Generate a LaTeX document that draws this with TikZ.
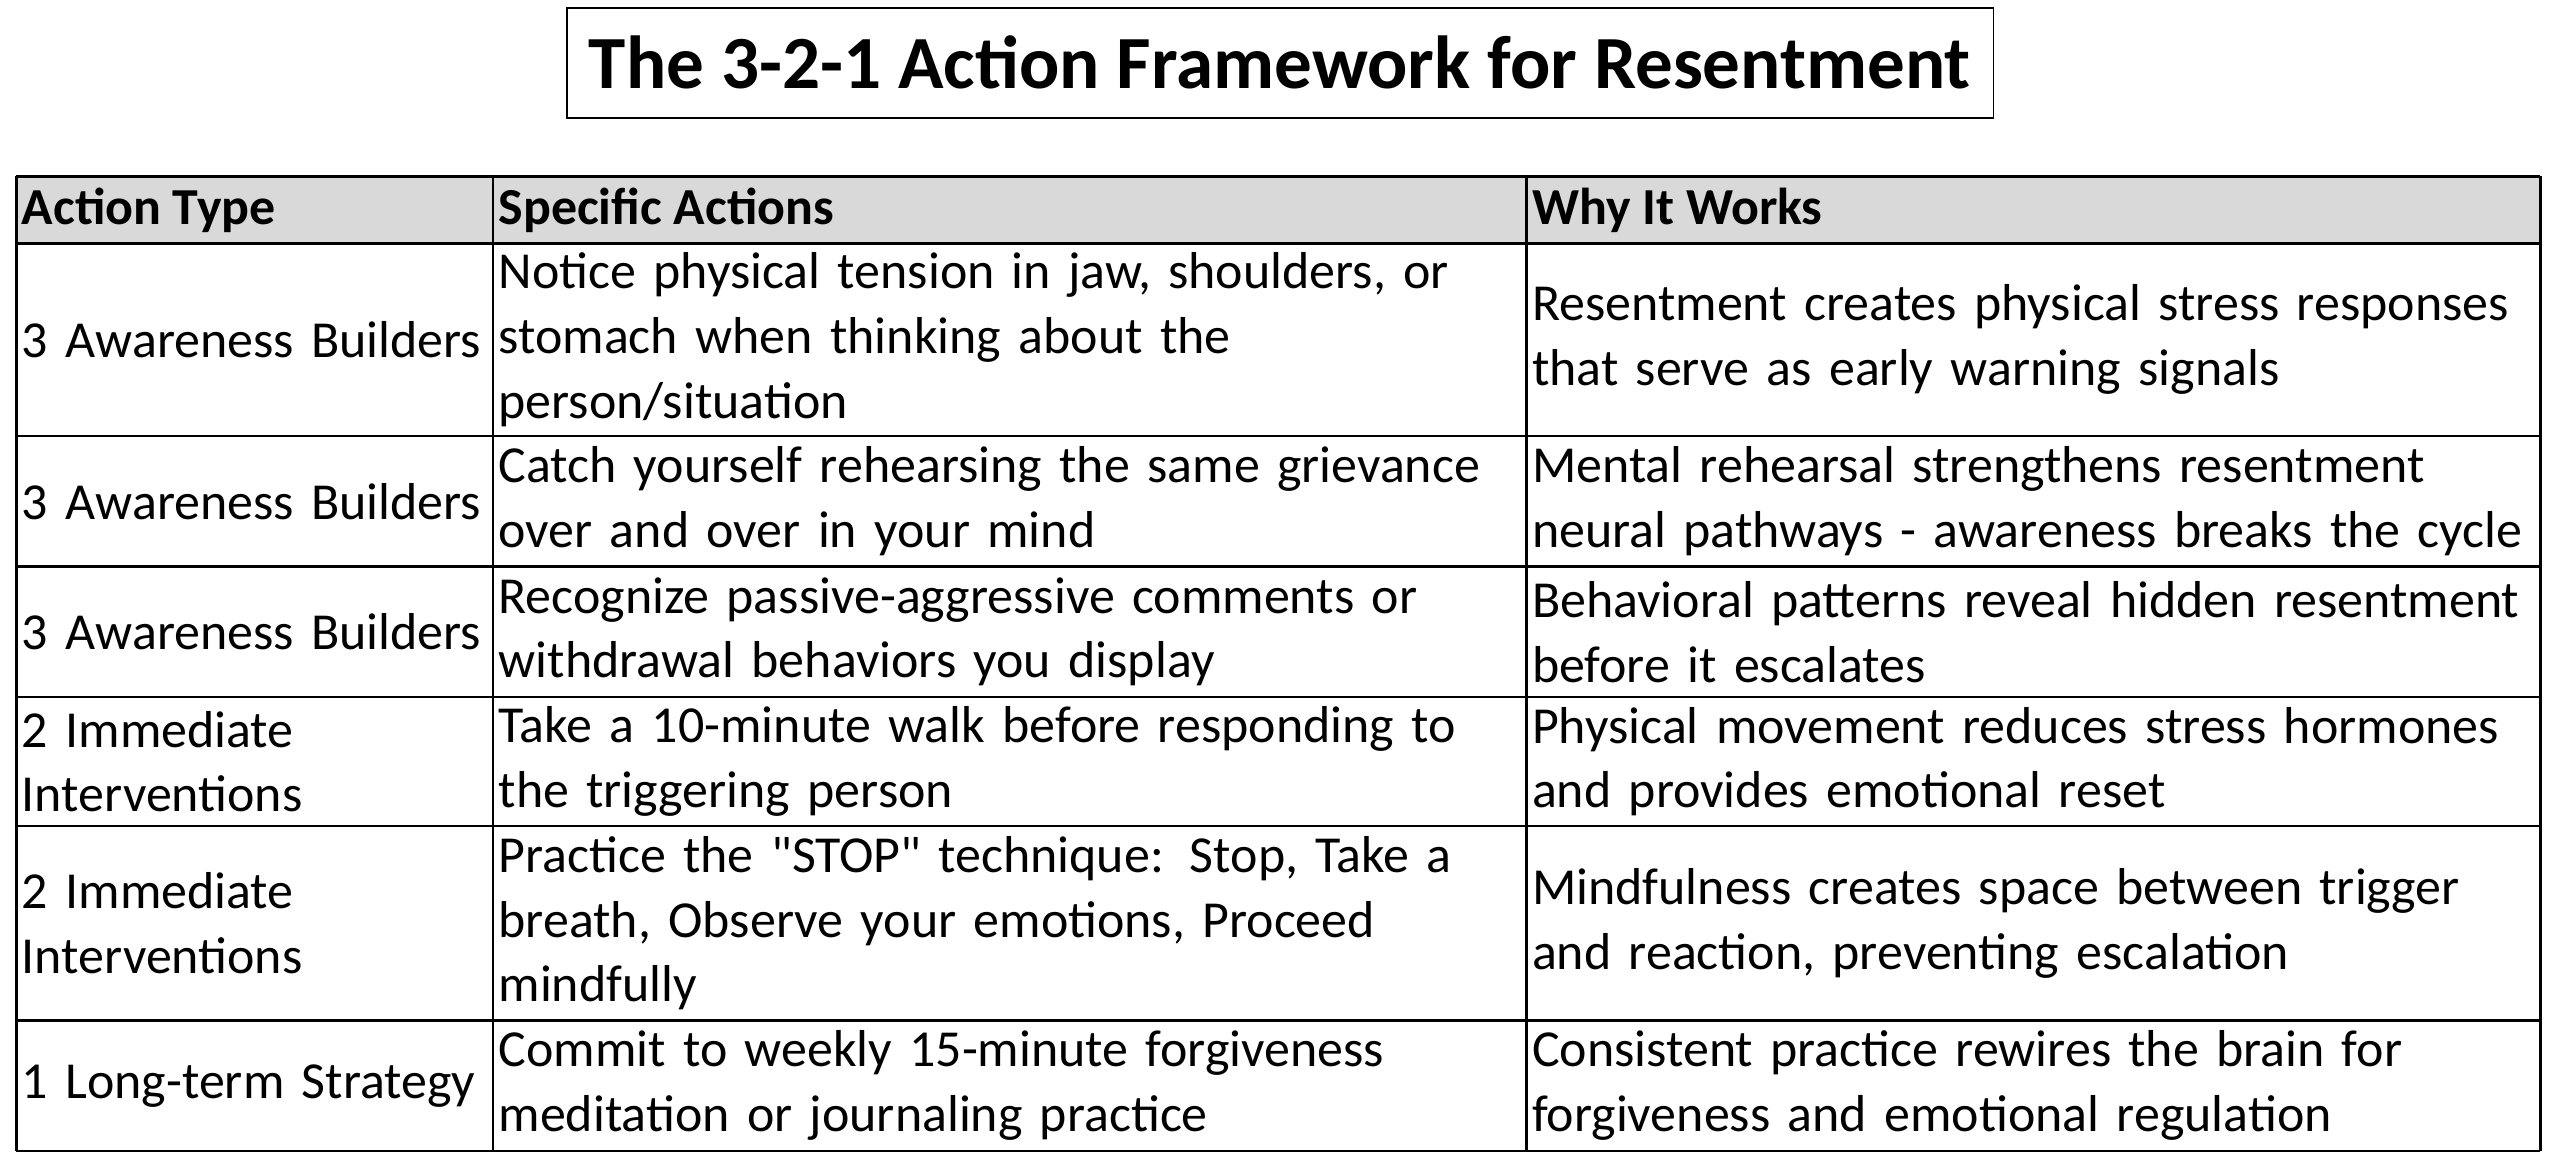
\documentclass[tikz,border=0pt]{standalone}
\usepackage{fontspec}
\setmainfont{Carlito}
\newfontfamily\qf{Carlito}
\newcommand{\sq}{{\qf"}}
\begin{document}
\begin{tikzpicture}[x=0.5pt,y=-0.5pt,
  cell/.style={anchor=west,align=left,inner sep=0pt,font=\fontsize{15.9}{19.8}\selectfont},
  c1/.style={cell,text width=146pt},
  c2/.style={cell,text width=316pt},
  c3/.style={cell,text width=310pt},
  hd/.style={cell,font=\fontsize{15.9}{19.8}\selectfont\bfseries},
  grid/.style={line width=0.75pt}]
\useasboundingbox (0,0) rectangle (1568,713.6);
\node[draw,line width=0.6pt,minimum width=437pt,minimum height=33.5pt,inner sep=0pt,font=\fontsize{23}{26}\selectfont\bfseries] (title) at (784,38.5) {The 3-2-1 Action Framework for Resentment};
\fill[gray!30] (10,108) rectangle (1556,149);
\foreach \y in {108,149,267,347,427,506,625,705} \draw[grid] (10,\y) -- (1556,\y);
\foreach \x in {10,302,935,1556} \draw[grid] (\x,108) -- (\x,705);
\node[hd] (h1) at (13,129) {Action Type};
\node[hd] (h2) at (305,129) {Specific Actions};
\node[hd] (h3) at (938,129) {Why It Works};
\node[c1] (a1) at (13,208) {3 Awareness Builders};
\node[c2] (b1) at (305,208) {Notice physical tension in jaw, shoulders, or\\stomach when thinking about the\\person/situation};
\node[c3] (d1) at (938,208) {Resentment creates physical stress responses\\that serve as early warning signals};
\node[c1] (a2) at (13,307) {3 Awareness Builders};
\node[c2] (b2) at (305,307) {Catch yourself rehearsing the same grievance\\over and over in your mind};
\node[c3] (d2) at (938,307) {Mental rehearsal strengthens resentment\\neural pathways - awareness breaks the cycle};
\node[c1] (a3) at (13,387) {3 Awareness Builders};
\node[c2] (b3) at (305,387) {Recognize passive-aggressive comments or\\withdrawal behaviors you display};
\node[c3] (d3) at (938,387) {Behavioral patterns reveal hidden resentment\\before it escalates};
\node[c1] (a4) at (13,466.5) {2 Immediate\\Interventions};
\node[c2] (b4) at (305,466.5) {Take a 10-minute walk before responding to\\the triggering person};
\node[c3] (d4) at (938,466.5) {Physical movement reduces stress hormones\\and provides emotional reset};
\node[c1] (a5) at (13,565.5) {2 Immediate\\Interventions};
\node[c2] (b5) at (305,565.5) {Practice the \sq STOP\sq{} technique: Stop, Take a\\breath, Observe your emotions, Proceed\\mindfully};
\node[c3] (d5) at (938,565.5) {Mindfulness creates space between trigger\\and reaction, preventing escalation};
\node[c1] (a6) at (13,665) {1 Long-term Strategy};
\node[c2] (b6) at (305,665) {Commit to weekly 15-minute forgiveness\\meditation or journaling practice};
\node[c3] (d6) at (938,665) {Consistent practice rewires the brain for\\forgiveness and emotional regulation};
\end{tikzpicture}
\end{document}
